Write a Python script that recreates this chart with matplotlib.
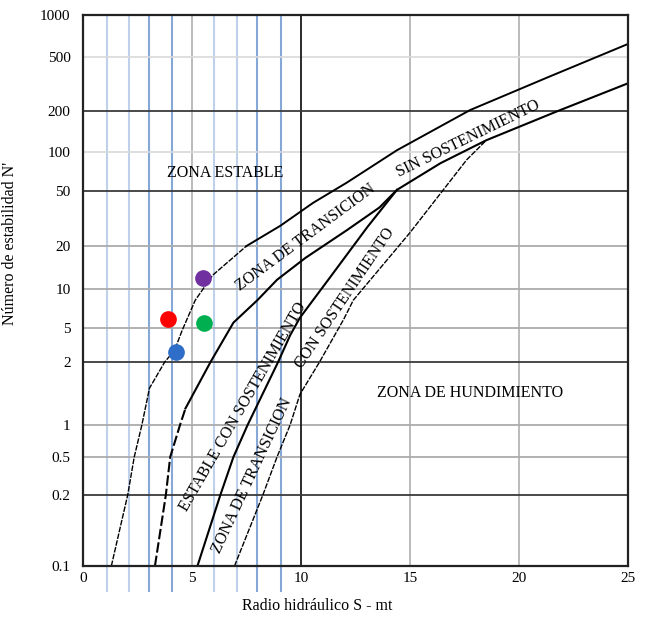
import matplotlib.pyplot as plt
import numpy as np
from matplotlib.ticker import NullLocator

# curves of the stability graph (S = hydraulic radius, N = stability number)
curve1_s = [1.3, 2.05, 2.35, 2.7, 3.05, 3.75, 4.2, 4.55, 5.15, 5.95, 7.5, 9.05, 10.55, 12.1, 14.4, 17.75, 21.35, 25.0]
curve1_n = [0.1, 0.2, 0.5, 1.0, 1.5, 2.0, 2.75, 4.7, 8.2, 12.5, 20, 28, 41, 58, 103, 203, 356, 620]

curve2_s = [3.3, 3.8, 4.0, 4.45, 4.7, 5.85, 6.9, 8.0, 8.9, 10.2, 12.1, 13.6, 14.4, 16.4, 18.5, 21.75, 25.0]
curve2_n = [0.1, 0.2, 0.5, 1.0, 1.2, 2.0, 5.5, 8.2, 11.6, 16.5, 26, 38, 51, 82, 122, 199, 320]

curve3_s = [5.25, 6.3, 6.9, 7.55, 8.95, 9.5, 9.95, 11.25, 13.05, 14.4]
curve3_n = [0.1, 0.2, 0.5, 1.0, 2.0, 4.1, 6.0, 11.6, 27.5, 51]

curve4_s = [6.95, 8.25, 8.9, 9.5, 9.95, 10.85, 11.95, 12.4, 15.0, 17.6, 18.5]
curve4_n = [0.1, 0.2, 0.5, 1.0, 1.4, 2.0, 5.8, 8.2, 25, 87, 122]

# measured stopes
point_s = [3.9, 5.55, 4.25, 5.5]
point_n = [5.9, 5.5, 2.6, 11.9]
point_colors = ["#ff0000", "#00b050", "#2f6ec8", "#7030a0"]

x_ticks = [0, 5, 10, 15, 20, 25]
y_ticks = [0.1, 0.2, 0.5, 1, 2, 5, 10, 20, 50, 100, 200, 500, 1000]
y_tick_labels = ["0.1", "0.2", "0.5", "1", "2", "5", "10", "20", "50", "100", "200", "500", "1000"]

# the printed graph has an uneven log axis, so the scale follows its tick spacing
scale_pos = [0, 71, 109, 141, 204, 238, 277, 320, 375, 414, 455, 509, 551]
log_t = np.log10(y_ticks)
log_ext = np.concatenate([[-3.0], log_t, [5.0]])
pos_ext = np.concatenate([[-600.0], scale_pos, [1100.0]])


def fwd(v):
    v = np.clip(np.asarray(v, dtype=float), 1e-3, 1e5)
    return np.interp(np.log10(v), log_ext, pos_ext)


def inv(p):
    return 10 ** np.interp(p, pos_ext, log_ext)


plt.rcParams["font.family"] = ["Liberation Serif", "DejaVu Serif"]

fig = plt.figure(figsize=(6.5, 6.17), dpi=100)
ax = fig.add_axes([83 / 650, 51 / 617, 545 / 650, 551 / 617])
ax.set_yscale("function", functions=(fwd, inv))
ax.set_xlim(0, 25)
ax.set_ylim(0.1, 1000)

# grid
blue_x = [1.1, 2.1, 3.05, 4.1, 6.0, 7.05, 8.0, 9.1]
blue_dark = [False, False, True, True, False, False, True, True]
for bx, dk in zip(blue_x, blue_dark):
    ax.axvline(bx, ymin=-0.045, ymax=1, color="#86a8d6" if dk else "#bfd1ea",
               lw=1.5, clip_on=False, zorder=1)
for gx in [5, 15, 20]:
    ax.axvline(gx, color="#b5b5b5", lw=1.3, zorder=1)
ax.axvline(10, color="#1a1a1a", lw=1.3, zorder=2)

for yv in [0.2, 2, 50, 200]:
    ax.axhline(yv, color="#3a3a3a", lw=1.3, zorder=2)
for yv in [0.5, 1, 5, 10, 20]:
    ax.axhline(yv, color="#ababab", lw=1.3, zorder=1)
for yv in [100, 500]:
    ax.axhline(yv, color="#d9d9d9", lw=1.2, zorder=1)

# boundaries (lower parts are dashed in the print)
ax.plot(curve1_s[:11], curve1_n[:11], color="black", lw=1.0, ls=(0, (4, 1)), zorder=3)
ax.plot(curve1_s[10:], curve1_n[10:], color="black", lw=1.4, zorder=3)
ax.plot(curve2_s[:5], curve2_n[:5], color="black", lw=1.5, ls=(0, (5, 1.5)), zorder=3)
ax.plot(curve2_s[4:], curve2_n[4:], color="black", lw=1.5, zorder=3)
ax.plot(curve3_s, curve3_n, color="black", lw=1.5, zorder=3)
ax.plot(curve4_s, curve4_n, color="black", lw=1.0, ls=(0, (4, 1)), zorder=3)

for s, n, c in zip(point_s, point_n, point_colors):
    ax.plot(s, n, "o", ms=11, color=c, mec=c, zorder=5)

# zone labels
fs = 11.5
ax.text(6.5, 69, "ZONA ESTABLE", fontsize=fs, ha="center", va="center")
ax.text(17.75, 1.42, "ZONA DE HUNDIMIENTO", fontsize=fs, ha="center", va="center")
ax.text(10.2, 22.9, "ZONA DE TRANSICION", fontsize=fs, ha="center", va="center",
        rotation=36.5, rotation_mode="anchor")
ax.text(17.65, 124, "SIN SOSTENIMIENTO", fontsize=fs, ha="center", va="center",
        rotation=26, rotation_mode="anchor")
ax.text(7.35, 1.22, "ESTABLE CON SOSTENIMIENTO", fontsize=fs, ha="center", va="center",
        rotation=60, rotation_mode="anchor")
ax.text(12.0, 8.5, "CON SOSTENIMIENTO", fontsize=fs, ha="center", va="center",
        rotation=56, rotation_mode="anchor")
ax.text(7.75, 0.32, "ZONA DE TRANSICION", fontsize=fs, ha="center", va="center",
        rotation=65, rotation_mode="anchor")

# axes
ax.set_xticks(x_ticks)
ax.set_yticks(y_ticks)
ax.set_yticklabels(y_tick_labels)
ax.yaxis.set_minor_locator(NullLocator())
ax.xaxis.set_minor_locator(NullLocator())
ax.tick_params(axis="both", length=0, labelsize=11)
ax.tick_params(axis="y", pad=9)
ax.tick_params(axis="x", pad=4)
for sp in ax.spines.values():
    sp.set_linewidth(1.6)
    sp.set_color("#222222")
    sp.set_zorder(4)

ax.set_xlabel("Radio hidráulico S - mt", fontsize=11.5)
ax.xaxis.set_label_coords(0.43, -0.058)
ax.set_ylabel("Número de estabilidad N'", fontsize=11.5)
ax.yaxis.set_label_coords(-0.12, 0.586)

fig.savefig("out.png", dpi=100)
